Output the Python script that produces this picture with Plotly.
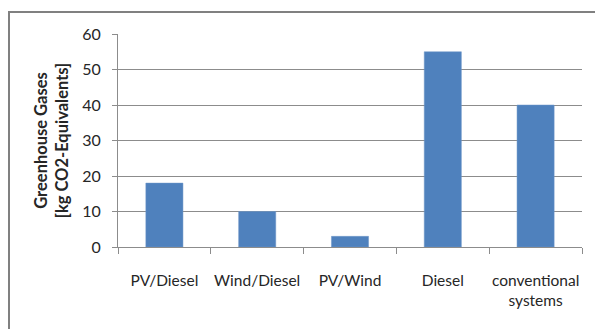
import plotly.graph_objects as go

categories = ["PV/Diesel", "Wind/Diesel", "PV/Wind", "Diesel", "conventional<br>systems"]
emissions = [18, 10, 3, 55, 40]
y_ticks = [0, 10, 20, 30, 40, 50, 60]

FONT = "Lato"
GRID = "#8c8c8c"
TEXT = "#262626"

fig = go.Figure(
    go.Bar(
        x=categories,
        y=emissions,
        width=0.4,
        marker=dict(color="#4f81bd", line=dict(color="#6f97c9", width=0.5)),
    )
)

fig.update_layout(
    width=595,
    height=329,
    margin=dict(l=118, r=13, t=34, b=82),
    paper_bgcolor="white",
    plot_bgcolor="white",
    showlegend=False,
    font=dict(family=FONT, size=15, color=TEXT),
    shapes=[
        dict(
            type="rect", xref="paper", yref="paper",
            x0=-109 / 464, x1=40 / 464 + 1, y0=-100 / 213, y1=1 + 22 / 213,
            line=dict(color="#808080", width=2), fillcolor="rgba(0,0,0,0)",
            layer="below",
        )
    ],
)

fig.update_xaxes(
    automargin=False,
    showline=True, linecolor=GRID, linewidth=1,
    ticks="outside", ticklen=6, tickcolor=GRID,
    tickson="boundaries", showgrid=False,
    tickangle=0,
    ticklabelstandoff=19,
    tickfont=dict(family=FONT, size=15.5, color=TEXT),
)

fig.update_yaxes(
    automargin=False,
    range=[0, 60], tickvals=y_ticks,
    showline=True, linecolor=GRID, linewidth=1,
    ticks="outside", ticklen=5, tickcolor=GRID,
    showgrid=True, gridcolor=GRID, gridwidth=1,
    zeroline=False,
    ticklabelstandoff=8,
    tickfont=dict(family=FONT, size=16, color=TEXT),
    title=dict(
        text="<b>Greenhouse Gases<br>[kg CO2-Equivalents]</b>",
        font=dict(family=FONT, size=16.5, color=TEXT),
        standoff=9,
    ),
)

fig.write_html("out.html")
